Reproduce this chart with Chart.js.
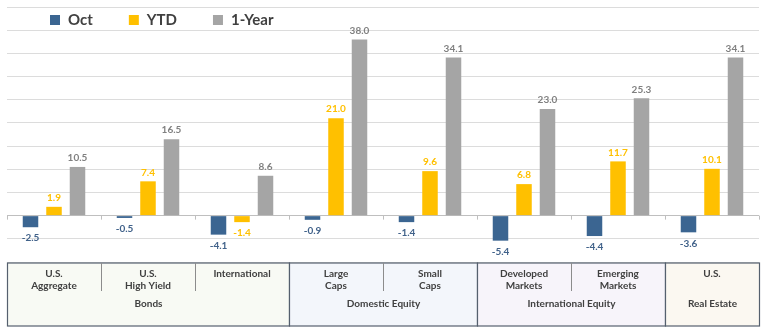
<!DOCTYPE html>
<html>
<head>
<meta charset="utf-8">
<script src="https://cdn.jsdelivr.net/npm/chart.js@4/dist/chart.umd.min.js"></script>
<style>
  html, body { margin: 0; padding: 0; background: #fff; }
  #wrap { width: 768px; height: 332px; position: relative; }
</style>
</head>
<body>
<div id="wrap"><canvas id="chart"></canvas></div>
<script>
// categories (two text lines each) and the group they belong to
const categories = [
    ['U.S.', 'Aggregate'], ['U.S.', 'High Yield'], ['International'],
    ['Large', 'Caps'], ['Small', 'Caps'],
    ['Developed', 'Markets'], ['Emerging', 'Markets'],
    ['U.S.']
];
const groupNames = ['Bonds', 'Domestic Equity', 'International Equity', 'Real Estate'];
const groupSizes = [3, 2, 2, 1];
const groupFills = ['#f8faf4', '#f3f6fb', '#f7f4fa', '#fbf8f1'];

const octValues = [-2.5, -0.5, -4.1, -0.9, -1.4, -5.4, -4.4, -3.6];
const ytdValues = [1.9, 7.4, -1.4, 21.0, 9.6, 6.8, 11.7, 10.1];
const yearValues = [10.5, 16.5, 8.6, 38.0, 34.1, 23.0, 25.3, 34.1];

const font = 'Lato, "Open Sans", sans-serif';

// 数值标签
const valueLabels = {
    id: 'valueLabels',
    afterDatasetsDraw(chart) {
        const ctx = chart.ctx;
        ctx.save();
        ctx.font = 'bold 10px ' + font;
        ctx.textAlign = 'center';
        ctx.textBaseline = 'middle';
        chart.data.datasets.forEach((ds, i) => {
            const meta = chart.getDatasetMeta(i);
            ctx.fillStyle = ds.labelColor;
            meta.data.forEach((bar, j) => {
                const v = ds.data[j];
                const y = v >= 0 ? bar.y - 9 : bar.y + 11;
                ctx.fillText(v.toFixed(1), bar.x, y);
            });
        });
        ctx.restore();
    }
};

// 图例（画在绘图区内左上）
const topLegend = {
    id: 'topLegend',
    afterDraw(chart) {
        const ctx = chart.ctx;
        ctx.save();
        ctx.font = 'bold 15px ' + font;
        ctx.textBaseline = 'middle';
        let x = 50;
        chart.data.datasets.forEach(ds => {
            ctx.fillStyle = ds.backgroundColor;
            ctx.fillRect(x, 15, 10, 10);
            ctx.fillStyle = '#404040';
            ctx.fillText(ds.label, x + 18, 20);
            x += 18 + ctx.measureText(ds.label).width + 36;
        });
        ctx.restore();
    }
};

// 底部分类表格
const categoryTable = {
    id: 'categoryTable',
    afterDraw(chart) {
        const ctx = chart.ctx;
        const xs = chart.scales.x;
        const area = chart.chartArea;
        const step = xs.getPixelForValue(1) - xs.getPixelForValue(0);
        const edge = i => xs.getPixelForValue(i) - step / 2;
        const zeroY = chart.scales.y.getPixelForValue(0);
        const top = area.bottom + 1, bottom = 326;
        ctx.save();

        // ticks on the zero line
        ctx.strokeStyle = '#bfbfbf';
        ctx.lineWidth = 1;
        for (let i = 0; i <= categories.length; i++) {
            const x = Math.round(edge(i)) + 0.5;
            ctx.beginPath();
            ctx.moveTo(x, zeroY);
            ctx.lineTo(x, zeroY + 4);
            ctx.stroke();
        }

        let start = 0;
        groupSizes.forEach((n, g) => {
            const x0 = Math.round(edge(start)) + 0.5;
            const x1 = Math.round(edge(start + n)) + 0.5;
            ctx.fillStyle = groupFills[g];
            ctx.fillRect(x0, top, x1 - x0, bottom - top);
            ctx.strokeStyle = '#55606e';
            ctx.lineWidth = 1.2;
            ctx.strokeRect(x0, top, x1 - x0, bottom - top);

            // inner separators
            ctx.strokeStyle = '#8c8c8c';
            ctx.lineWidth = 1;
            for (let k = 1; k < n; k++) {
                const xs2 = Math.round(edge(start + k)) + 0.5;
                ctx.beginPath();
                ctx.moveTo(xs2, top);
                ctx.lineTo(xs2, 291);
                ctx.stroke();
            }

            ctx.fillStyle = '#404040';
            ctx.textAlign = 'center';
            ctx.textBaseline = 'middle';
            ctx.font = 'bold 10px ' + font;
            for (let k = 0; k < n; k++) {
                const cx = xs.getPixelForValue(start + k);
                categories[start + k].forEach((line, l) => {
                    ctx.fillText(line, cx, 274 + l * 12);
                });
            }
            ctx.fillText(groupNames[g], (x0 + x1) / 2, 304);
            start += n;
        });
        ctx.restore();
    }
};

new Chart(document.getElementById('chart'), {
    type: 'bar',
    data: {
        labels: categories,
        datasets: [
            { label: 'Oct', data: octValues, backgroundColor: '#3b6591', labelColor: '#41628a' },
            { label: 'YTD', data: ytdValues, backgroundColor: '#ffc000', labelColor: '#ffc000' },
            { label: '1-Year', data: yearValues, backgroundColor: '#a5a5a5', labelColor: '#808080' }
        ]
    },
    options: {
        responsive: true,
        maintainAspectRatio: false,
        animation: false,
        layout: { padding: { left: 7, right: 9, top: 7, bottom: 70 } },
        datasets: {
            bar: { categoryPercentage: 0.75, barPercentage: 0.66 }
        },
        plugins: {
            legend: { display: false },
            tooltip: { enabled: false }
        },
        scales: {
            x: { display: false },
            y: {
                min: -10,
                max: 45,
                ticks: { display: false, stepSize: 5 },
                border: { display: false },
                grid: {
                    drawTicks: false,
                    color: ctx => ctx.tick && ctx.tick.value === 0 ? '#bfbfbf' : '#dcdcdc'
                },
                afterFit: s => { s.width = 0; }
            }
        }
    },
    plugins: [valueLabels, topLegend, categoryTable]
});
</script>
</body>
</html>
